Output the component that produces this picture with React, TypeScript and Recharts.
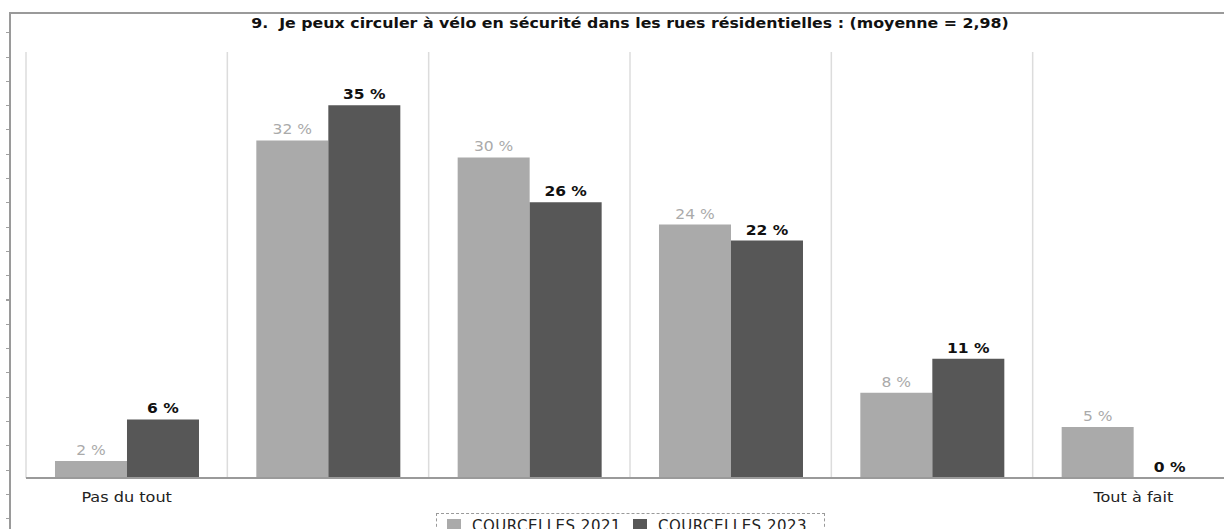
import React from 'react';
import { BarChart, Bar, XAxis, YAxis, CartesianGrid, LabelList } from 'recharts';

const categories = ['Pas du tout', '2', '3', '4', '5', 'Tout à fait'];
const series2021 = [1.6, 31.7, 30.1, 23.8, 8.0, 4.8];
const series2023 = [5.5, 35.0, 25.9, 22.3, 11.2, 0];
const seriesNames = ['COURCELLES 2021', 'COURCELLES 2023'];
const shownTickLabels = ['Pas du tout', 'Tout à fait'];
const title = '9.  Je peux circuler à vélo en sécurité dans les rues résidentielles : (moyenne = 2,98)';

// a zero-height bar gets no label in Recharts, so zero is kept as a vanishingly small value
const EPS = 1e-6;
const data = categories.map((c, i) => ({
  cat: c,
  idx: i + 0.5,
  y2021: series2021[i] || EPS,
  y2023: series2023[i] || EPS,
}));

const FONT = '"DejaVu Sans", Verdana, sans-serif';
const C2021 = '#aaaaaa';
const C2023 = '#575757';
const SX = 1.15;

const fmt = (v: any) => `${Math.round(Number(v))} %`;

const makeLabel = (color: string, bold: boolean) => (props: any) => {
  const { x, y, width, value } = props;
  if (value === undefined || value === null) return null;
  const cx = Number(x) + Number(width) / 2;
  const ty = Number(y) - 6;
  return (
    <text x={cx} y={ty} textAnchor="middle" fill={color} fontSize={13.5} fontFamily={FONT} fontWeight={bold ? 'bold' : 'normal'}
      transform={`translate(${cx},0) scale(${SX},1) translate(${-cx},0)`}>
      {fmt(value)}
    </text>
  );
};

const CatTick = (props: any) => {
  const { x, y, payload } = props;
  const v = payload?.value;
  if (!shownTickLabels.includes(v)) return null;
  return (
    <text x={x} y={y} dy={12} textAnchor="middle" fill="#222" fontSize={14} fontFamily={FONT}
      transform={`translate(${x},0) scale(${SX},1) translate(${-x},0)`}>
      {v}
    </text>
  );
};

export default function App() {
  return (
    <div style={{ position: 'fixed', left: 0, top: 0, width: 1224, height: 529, overflow: 'hidden', background: '#fff', fontFamily: FONT }}>
      <div style={{ position: 'absolute', left: 9, top: 12, right: 0, bottom: 0, borderTop: '2px solid #9a9a9a', borderLeft: '2px solid #9a9a9a' }} />
      <div style={{ position: 'absolute', left: 6, top: 9, width: 3, height: 520, background: 'repeating-linear-gradient(to bottom, transparent 0px, transparent 23.2px, #a0a0a0 23.2px, #a0a0a0 24.3px)' }} />
      <div style={{ position: 'absolute', left: 0, width: 1260, textAlign: 'center', top: 15, fontSize: 14.5, fontWeight: 'bold', whiteSpace: 'pre', color: '#111', transform: 'scaleX(1.09)', transformOrigin: '630px 50%' }}>{title}</div>
      <div style={{ position: 'absolute', left: 0, top: 0 }}>
        <BarChart width={1250} height={529} data={data} margin={{ top: 52, right: 16, bottom: 0, left: 26 }} barCategoryGap="14.4%" barGap={0}>
          <XAxis xAxisId="grid" dataKey="idx" type="number" domain={[0, 6]} ticks={[0, 1, 2, 3, 4, 5, 6]} hide />
          <CartesianGrid xAxisId="grid" horizontal={false} stroke="#dcdcdc" strokeWidth={1.5} />
          <XAxis dataKey="cat" height={51} tickLine={false} axisLine={{ stroke: '#9a9a9a', strokeWidth: 2 }}
            tick={<CatTick />} tickMargin={6} interval={0} />
          <YAxis domain={[0, 40]} hide />
          <Bar dataKey="y2021" name={seriesNames[0]} fill={C2021} isAnimationActive={false}>
            <LabelList dataKey="y2021" content={makeLabel('#aaaaaa', false)} />
          </Bar>
          <Bar dataKey="y2023" name={seriesNames[1]} fill={C2023} isAnimationActive={false}>
            <LabelList dataKey="y2023" content={makeLabel('#111', true)} />
          </Bar>
        </BarChart>
      </div>
      <div style={{ position: 'absolute', left: 436, top: 513, width: 389, height: 30, border: '1px dashed #9a9a9a', boxSizing: 'border-box', display: 'flex', alignItems: 'flex-start', paddingLeft: 10, paddingTop: 3, fontSize: 15, letterSpacing: 0.5, color: '#222', whiteSpace: 'nowrap' }}>
        {seriesNames.map((n, i) => (
          <span key={n} style={{ display: 'inline-flex', alignItems: 'center', marginRight: 12 }}>
            <span style={{ display: 'inline-block', width: 14, height: 14, background: i === 0 ? C2021 : C2023, marginRight: 11 }} />
            {n}
          </span>
        ))}
      </div>
    </div>
  );
}
